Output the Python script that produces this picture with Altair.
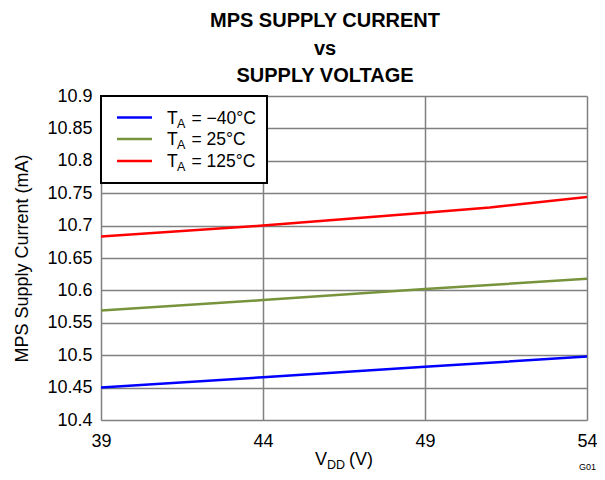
import altair as alt
import pandas as pd

# ---- data ----
temps = ["−40°C", "25°C", "125°C"]
colors = ["#0000ff", "#77933c", "#ff0000"]

v_m40 = [39, 44, 49, 54]
i_m40 = [10.450, 10.466, 10.482, 10.498]
v_25 = [39, 44, 49, 54]
i_25 = [10.569, 10.585, 10.602, 10.618]
v_125 = [39, 44, 49, 51, 54]
i_125 = [10.683, 10.700, 10.720, 10.728, 10.744]

x_ticks = [39, 44, 49, 54]
y_ticks = [10.4, 10.45, 10.5, 10.55, 10.6, 10.65, 10.7, 10.75, 10.8, 10.85, 10.9]

rows = []
for t, vs, cs in [(temps[0], v_m40, i_m40), (temps[1], v_25, i_25), (temps[2], v_125, i_125)]:
    for v, c in zip(vs, cs):
        rows.append({"series": t, "v": v, "i": c})
df = pd.DataFrame(rows)
one = pd.DataFrame({"k": [0]})

FONT = "Liberation Sans"
W, H = 486, 324
FS = 18

lines = alt.Chart(df).mark_line(strokeWidth=2.5, clip=True).encode(
    x=alt.X("v:Q", scale=alt.Scale(domain=[39, 54], nice=False, zero=False),
            axis=alt.Axis(values=x_ticks, title=None, ticks=False, domain=False,
                          labelFontSize=FS, labelFont=FONT, labelColor="black",
                          labelPadding=12, gridColor="#808080", gridWidth=1.5,
                          labelFlush=False)),
    y=alt.Y("i:Q", scale=alt.Scale(domain=[10.4, 10.9], nice=False, zero=False),
            axis=alt.Axis(values=y_ticks, title="MPS Supply Current (mA)", format=".4~g",
                          ticks=False, domain=False, labelFontSize=FS, labelFont=FONT,
                          labelColor="black", labelPadding=9, gridColor="#808080",
                          gridWidth=1.5, titleFontSize=FS, titleFont=FONT,
                          titleFontWeight="normal", titleColor="black", titlePadding=15,
                          labelFlush=False)),
    color=alt.Color("series:N", scale=alt.Scale(domain=temps, range=colors), legend=None),
    detail="series:N",
)

layers = [lines]


def txt(s, size, x, y, align="left"):
    return alt.Chart(one).mark_text(text=s, font=FONT, fontSize=size, fontWeight="normal",
                                    align=align, baseline="alphabetic", color="black").encode(
        x=alt.value(x), y=alt.value(y))


# legend box
layers.append(alt.Chart(one).mark_rect(fill="white", stroke="black", strokeWidth=2).encode(
    x=alt.value(0), x2=alt.value(166), y=alt.value(0), y2=alt.value(87)))

row_y = [21.5, 43, 65]
for k, t in enumerate(temps):
    ly = row_y[k]
    layers.append(alt.Chart(one).mark_rule(color=colors[k], strokeWidth=2.5).encode(
        x=alt.value(16), x2=alt.value(51), y=alt.value(ly)))
    layers.append(txt("T", 17.5, 66, ly + 6))
    layers.append(txt("A", 12.5, 76, ly + 10))
    layers.append(txt("= " + t, 17.5, 90.5, ly + 6))

# x axis title with subscript
layers.append(txt("V", FS, 214, 369))
layers.append(txt("DD", 12.5, 226, 373))
layers.append(txt("(V)", FS, 248, 369))
layers.append(txt("G01", 9, 495, 374, align="right"))

chart = alt.layer(*layers).properties(
    width=W, height=H,
    autosize=alt.AutoSizeParams(type="none"),
    padding={"left": 93, "top": 88, "right": 10, "bottom": 52},
    title=alt.TitleParams(text=["MPS SUPPLY CURRENT", "vs", "SUPPLY VOLTAGE"],
                          font=FONT, fontSize=20, fontWeight="bold", color="black",
                          lineHeight=27.5, anchor="middle", dx=-19, offset=1),
).configure_view(stroke="black", strokeWidth=2.5).configure(background="white")

chart.save("out.html", embed_options={"renderer": "svg", "actions": False})
